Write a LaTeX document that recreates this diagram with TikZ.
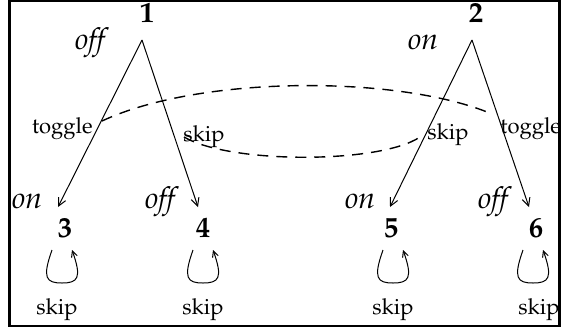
\documentclass[tikz,border=0pt]{standalone}
\usepackage[T1]{fontenc}
\usepackage{mathpazo}
\usetikzlibrary{arrows.meta}
\begin{document}
\begin{tikzpicture}[x=0.5pt,y=-0.5pt,
  num/.style={font=\fontsize{14.4}{16}\selectfont\bfseries, inner sep=0pt, anchor=base},
  st/.style={font=\fontsize{15}{18}\selectfont\itshape, inner sep=0pt, anchor=base},
  lab/.style={font=\fontsize{11}{13}\selectfont, inner sep=0pt, anchor=base},
  edgearrow/.style={line width=0.5pt, -{Straight Barb[length=4pt,width=4pt]}},
  link/.style={line width=0.7pt, dash pattern=on 5.5pt off 4pt},
  loopy/.style={line width=0.5pt, -{Straight Barb[length=3pt,width=3pt]}}]
\useasboundingbox (0,0) rectangle (561,332);
\draw[line width=1.2pt] (9.5,1) rectangle (559.5,326);
% state numbers
\node[num] (n1) at (147,22) {1};
\node[num] (n2) at (476,22) {2};
\node[num] (n3) at (65,237) {3};
\node[num] (n4) at (203,237) {4};
\node[num] (n5) at (391,237) {5};
\node[num] (n6) at (536,237) {6};
% values
\node[st] (s1) at (90,49) {off};
\node[st] (s2) at (423,49) {on};
\node[st] (s3) at (27,208) {on};
\node[st] (s4) at (160,208) {off};
\node[st] (s5) at (360,208) {on};
\node[st] (s6) at (493,208) {off};
% edges
\coordinate (a1) at (142,40);
\coordinate (a2) at (472,40);
\coordinate (b3) at (58,207);
\coordinate (b4) at (198,207);
\coordinate (b5) at (390,207);
\coordinate (b6) at (529,207);
\draw[edgearrow] (a1) -- (b3);
\draw[edgearrow] (a1) -- (b4);
\draw[edgearrow] (a2) -- (b5);
\draw[edgearrow] (a2) -- (b6);
% edge labels
\node[lab, anchor=base east] (tg1) at (93,133) {toggle};
\node[lab, anchor=base west] (sk1) at (183,141) {skip};
\node[lab, anchor=base west] (sk2) at (427,139) {skip};
\node[lab, anchor=base west] (tg2) at (500,133) {toggle};
% dashed links
\coordinate (c1) at (102,121);
\coordinate (c2) at (492,114);
\coordinate (d1) at (184,137);
\coordinate (d2) at (420,137);
\draw[link] (c1) .. controls (200,75) and (400,75) .. (c2);
\draw[link] (d1) .. controls (230,164) and (380,164) .. (d2);
% self loops
\foreach \i/\cx/\sx in {3/62/57, 4/203/203, 5/393/393, 6/533/539}{
  \coordinate (la\i) at (\cx-10,250);
  \coordinate (lb\i) at (\cx+10,250);
  \draw[loopy] (la\i) .. controls (\cx-20,278) and (\cx-16,283) .. (\cx,283)
     .. controls (\cx+16,283) and (\cx+20,278) .. (lb\i);
  \node[lab] (k\i) at (\sx,314) {skip};
}
\end{tikzpicture}
\end{document}
